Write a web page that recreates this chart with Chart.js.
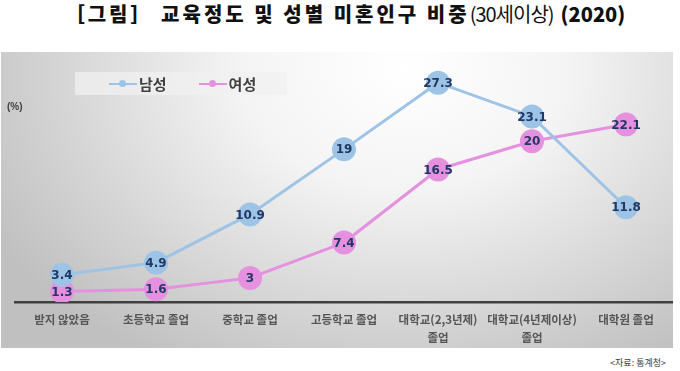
<!DOCTYPE html>
<html>
<head>
<meta charset="utf-8">
<script src="https://cdn.jsdelivr.net/npm/chart.js@4"></script>
<style>
  body { margin: 0; width: 680px; height: 371px; background: #fff; position: relative; overflow: hidden;
         font-family: "Noto Sans CJK KR", sans-serif; }
  #title { position: absolute; top: -1px; left: 0; width: 690px; text-align: center; font-size: 20px;
           font-weight: 900; color: #111; letter-spacing: 3px; white-space: nowrap; }
  #title .thin { font-weight: normal; letter-spacing: -1px; }
  #title .year { letter-spacing: 0; margin-left: 7px; }
  #box { position: absolute; left: 1px; top: 52px; width: 672px; height: 296px;
         background: radial-gradient(ellipse 70% 115% at 60% 6%, #ffffff 0%, #f4f4f4 35%, #d6d6d6 72%, #c0c0c0 100%); }
  #legend { position: absolute; left: 74px; top: 20px; width: 212px; height: 23px;
            background: rgba(240,240,240,0.75); display: flex; align-items: center; }
  .item { display: flex; align-items: center; font-size: 15px; font-weight: bold; color: #404040; }
  .icon { position: relative; width: 28px; height: 10px; margin-right: 2px; }
  .icon .ln { position: absolute; left: 0; right: 0; top: 4px; height: 2.5px; }
  .icon .dot { position: absolute; left: 10px; top: 1.5px; width: 7px; height: 7px; border-radius: 50%; }
  #unit { position: absolute; left: 6px; top: 49px; font: bold 10px "Liberation Sans", sans-serif; color: #404040; }
  #source { position: absolute; right: 14px; top: 356px; font-size: 9px; color: #404040; }
  canvas { position: absolute; left: 0; top: 0; }
</style>
</head>
<body>
<div id="title">［그림］ 교육정도 및 성별 미혼인구 비중<span class="thin">(30세이상)</span><span class="year">(2020)</span></div>
<div id="box">
  <canvas id="myChart" width="672" height="296"></canvas>
  <div id="legend"></div>
  <div id="unit">(%)</div>
</div>
<div id="source">&lt;자료: 통계청&gt;</div>
<script>
var categories = ["받지 않았음", "초등학교 졸업", "중학교 졸업", "고등학교 졸업", ["대학교(2,3년제)", "졸업"], ["대학교(4년제이상)", "졸업"], "대학원 졸업"];
var male = [3.4, 4.9, 10.9, 19, 27.3, 23.1, 11.8];
var female = [1.3, 1.6, 3, 7.4, 16.5, 20, 22.1];
var seriesNames = ["남성", "여성"];
var seriesColors = ["#9dc3e6", "#e690e0"];

// value written in the middle of each marker
var valueLabels = {
    id: 'valueLabels',
    afterDatasetsDraw: function(chart) {
        var ctx = chart.ctx;
        ctx.save();
        ctx.font = 'bold 12px "DejaVu Sans"';
        ctx.fillStyle = '#203864';
        ctx.textAlign = 'center';
        ctx.textBaseline = 'middle';
        chart.data.datasets.forEach(function(ds, i) {
            chart.getDatasetMeta(i).data.forEach(function(pt, j) {
                ctx.fillText(ds.data[j], pt.x, pt.y + 1);
            });
        });
        ctx.restore();
    }
};

var ctx = document.getElementById("myChart").getContext('2d');
window.myChart = new Chart(ctx, {
    type: 'line',
    data: {
        labels: categories,
        datasets: [{
            label: seriesNames[0],
            data: male,
            borderColor: seriesColors[0],
            backgroundColor: seriesColors[0],
            borderWidth: 3,
            pointRadius: 12,
            pointHoverRadius: 12,
            pointBorderWidth: 0
        }, {
            label: seriesNames[1],
            data: female,
            borderColor: seriesColors[1],
            backgroundColor: seriesColors[1],
            borderWidth: 3,
            pointRadius: 12,
            pointHoverRadius: 12,
            pointBorderWidth: 0
        }]
    },
    options: {
        responsive: false,
        animation: false,
        layout: { autoPadding: false, padding: { left: 14, right: 0, top: 9, bottom: 0 } },
        plugins: {
            legend: { display: false },
            tooltip: { enabled: false }
        },
        scales: {
            x: {
                offset: true,
                grid: { display: false },
                border: { display: true, color: '#404040', width: 2.5 },
                ticks: {
                    color: '#555555',
                    font: { family: 'Noto Sans CJK KR', size: 11.5, weight: 'bold', lineHeight: 1.55 },
                    padding: 1,
                    maxRotation: 0,
                    autoSkip: false
                },
                afterFit: function(scale) { scale.height = 46; }
            },
            y: { display: false, min: 0, max: 30 }
        }
    },
    plugins: [valueLabels]
});

// legend built from the datasets
var legend = document.getElementById('legend');
myChart.data.datasets.forEach(function(ds, i) {
    var item = document.createElement('div');
    item.className = 'item';
    item.style.marginLeft = i === 0 ? '34px' : '32px';
    item.innerHTML = '<span class="icon"><span class="ln" style="background:' + ds.borderColor + '"></span>' +
        '<span class="dot" style="background:' + ds.borderColor + '"></span></span>' + ds.label;
    legend.appendChild(item);
});
</script>
</body>
</html>
